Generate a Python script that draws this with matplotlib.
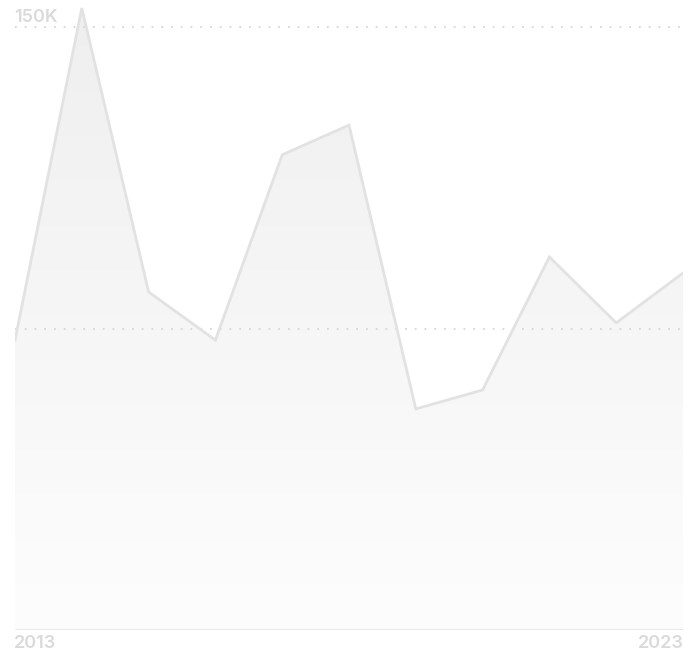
import numpy as np
import matplotlib.pyplot as plt
from matplotlib.colors import LinearSegmentedColormap

plt.rcParams['font.family'] = ['Inter', 'DejaVu Sans']

years = [2013, 2014, 2015, 2016, 2017, 2018, 2019, 2020, 2021, 2022, 2023]
values = [72100, 154700, 84100, 72100, 118200, 125600, 55000, 59700, 92800, 76400, 88800]
grid_values = [75000, 150000]
tick_years = [2013, 2023]

W, H = 695, 653
fig = plt.figure(figsize=(W / 100, H / 100), dpi=100)
ax = fig.add_axes([15 / W, 23 / H, 668 / W, 630 / H])
ymax = 150000 * 630 / 603
ax.set_xlim(years[0], years[-1])
ax.set_ylim(0, ymax)

# gradient fill clipped to the area under the line
poly = ax.fill_between(years, values, 0, color='none', lw=0)
grad = np.linspace(1, 0, 256).reshape(-1, 1)
cmap = LinearSegmentedColormap.from_list('g', ['#fdfdfd', '#efefef'])
img = ax.imshow(grad, cmap=cmap, aspect='auto', extent=[years[0], years[-1], 0, ymax],
                origin='upper', zorder=1)
img.set_clip_path(poly.get_paths()[0], transform=ax.transData)

for g in grid_values:
    ax.axhline(g, color='#d6d6d6', lw=1.3, ls=(0, (1, 4.4)), zorder=2)

ax.plot(years, values, color='#e2e2e2', lw=2, zorder=3, solid_joinstyle='miter')
ax.axhline(0, color='#e6e6e6', lw=1.2, zorder=3)

label_style = dict(color='#dadada', fontsize=13, fontweight='semibold', va='baseline')
fig.text(14 / W, (H - 22) / H, '150K', ha='left', **label_style)
fig.text(14 / W, (H - 648) / H, str(tick_years[0]), ha='left', **label_style)
fig.text(684 / W, (H - 648) / H, str(tick_years[1]), ha='right', **label_style)

ax.axis('off')
fig.savefig('out.png', dpi=100)
